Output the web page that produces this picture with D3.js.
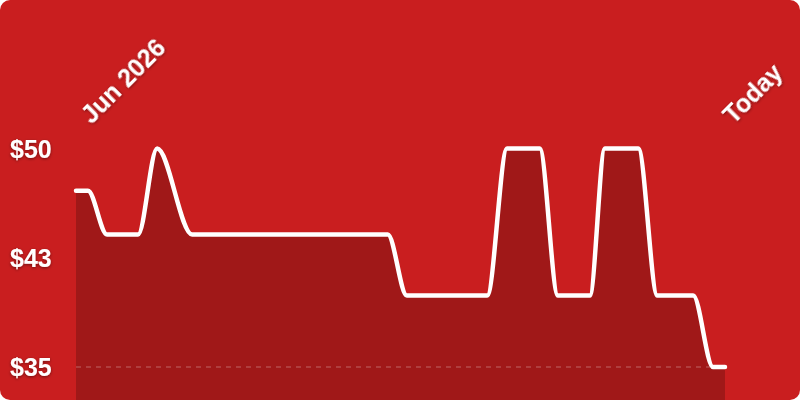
<!DOCTYPE html>
<html>
<head>
<meta charset="utf-8">
<script src="https://cdn.jsdelivr.net/npm/d3@7"></script>
<style>
  html, body { margin: 0; padding: 0; background: #ffffff; }
  svg { display: block; }
  text { font-family: "Liberation Sans", Arial, sans-serif; font-weight: bold; fill: #ffffff; }
</style>
</head>
<body>
<svg id="chart" width="800" height="400"></svg>
<script>
// ---- data ----
const dates = [
  "2026-06-01T00:00Z", "2026-06-01T15:00Z", "2026-06-02T15:00Z", "2026-06-04T06:00Z",
  "2026-06-05T06:00Z", "2026-06-07T02:00Z", "2026-06-17T08:00Z", "2026-06-18T08:00Z",
  "2026-06-22T13:00Z", "2026-06-23T14:00Z", "2026-06-25T07:00Z", "2026-06-26T06:00Z",
  "2026-06-27T22:00Z", "2026-06-28T17:00Z", "2026-06-30T11:00Z", "2026-07-01T11:00Z",
  "2026-07-03T08:00Z", "2026-07-04T09:00Z", "2026-07-05T00:00Z"
];
const prices = [
  47.1, 47.1, 44.1, 44.1,
  50, 44.1, 44.1, 39.9,
  39.9, 50, 50, 39.9,
  39.9, 50, 50, 39.9,
  39.9, 35, 35
];
const yTicks = [35, 42.5, 50];
const yTickLabels = ["$35", "$43", "$50"];
const xTickLabels = ["Jun 2026", "Today"];

// ---- layout ----
const W = 800, H = 400;
const margin = { top: 148.5, right: 75, bottom: 33, left: 76 };

const data = dates.map((d, i) => ({ date: d3.isoParse(d), price: prices[i] }));

const svg = d3.select("#chart");

const defs = svg.append("defs");
const clip = defs.append("clipPath").attr("id", "card");
clip.append("rect").attr("width", W).attr("height", H).attr("rx", 10).attr("ry", 10);
const shadow = defs.append("filter").attr("id", "shadow")
  .attr("x", "-20%").attr("y", "-50%").attr("width", "140%").attr("height", "200%");
shadow.append("feDropShadow").attr("dx", 0).attr("dy", 1).attr("stdDeviation", 1.5)
  .attr("flood-color", "#000").attr("flood-opacity", 0.45);

const g = svg.append("g").attr("clip-path", "url(#card)");
g.append("rect").attr("width", W).attr("height", H).attr("fill", "#c91e1f");

const x = d3.scaleUtc()
  .domain(d3.extent(data, d => d.date))
  .range([margin.left, W - margin.right]);
const y = d3.scaleLinear()
  .domain([35, 50])
  .range([H - margin.bottom, margin.top]);

const curve = d3.curveMonotoneX;

const area = d3.area()
  .x(d => x(d.date))
  .y0(H)
  .y1(d => y(d.price))
  .curve(curve);
const line = d3.line()
  .x(d => x(d.date))
  .y(d => y(d.price))
  .curve(curve);

g.append("path").datum(data).attr("d", area).attr("fill", "rgba(0,0,0,0.2)");

// baseline gridline at min
g.append("line")
  .attr("x1", x.range()[0]).attr("x2", x.range()[1])
  .attr("y1", y(yTicks[0])).attr("y2", y(yTicks[0]))
  .attr("stroke", "rgba(255,255,255,0.22)")
  .attr("stroke-width", 1.5)
  .attr("stroke-dasharray", "5,5");

g.append("path").datum(data).attr("d", line)
  .attr("fill", "none")
  .attr("stroke", "#ffffff")
  .attr("stroke-width", 4.5)
  .attr("stroke-linejoin", "round")
  .attr("stroke-linecap", "round");

// y axis labels
const yAxis = d3.axisLeft(y).tickValues(yTicks).tickFormat((d, i) => yTickLabels[i]).tickSize(0);
const ya = g.append("g").attr("transform", "translate(10,0)").call(yAxis);
ya.select(".domain").remove();
ya.selectAll("text")
  .attr("x", 0).attr("text-anchor", "start")
  .attr("dy", "0.35em")
  .attr("fill", "#fff")
  .style("font-family", "'Liberation Sans', Arial, sans-serif")
  .style("font-weight", "bold")
  .style("font-size", "25px")
  .attr("filter", "url(#shadow)");

// x axis labels (first and last)
const xTicks = [x.domain()[0], x.domain()[1]];
const xAxis = d3.axisTop(x).tickValues(xTicks).tickFormat((d, i) => xTickLabels[i]).tickSize(0);
const xa = g.append("g").attr("transform", "translate(0,125)").call(xAxis);
xa.select(".domain").remove();
xa.selectAll("text")
  .attr("x", 0).attr("y", 0).attr("dy", 0)
  .attr("text-anchor", "start")
  .attr("transform", (d, i) => `translate(${i === 0 ? 15 : 8},0) rotate(-45)`)
  .attr("fill", "#fff")
  .style("font-family", "'Liberation Sans', Arial, sans-serif")
  .style("font-weight", "bold")
  .style("font-size", "25px")
  .attr("filter", "url(#shadow)");
</script>
</body>
</html>
